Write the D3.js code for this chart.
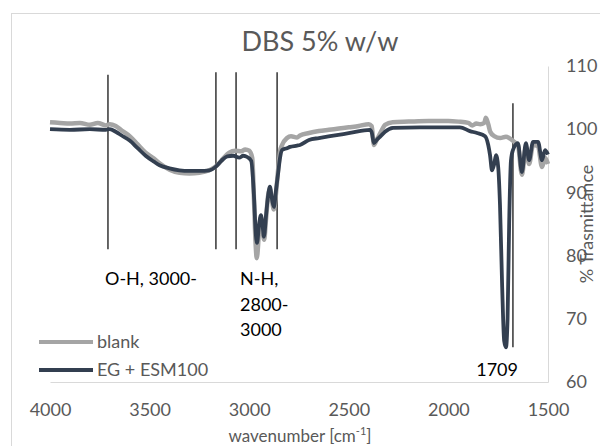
<!doctype html>
<html lang="en">
<head>
<meta charset="UTF-8">
<title>DBS 5% w/w</title>
<style>
  body { margin: 0; background: #fff; }
  svg { display: block; font-family: Lato, "Open Sans", sans-serif; }
</style>
</head>
<body>
<div class="chart"></div>
<script src="https://d3js.org/d3.v7.min.js"></script>
<script>
  // wavenumber (cm-1) and % transmittance
  const blankWn = [4000, 3950, 3900, 3850, 3800, 3760, 3720, 3700, 3670, 3640, 3600, 3560, 3520, 3480, 3450, 3400, 3350, 3300, 3250, 3200, 3160, 3130, 3100, 3070, 3040, 3020, 3000, 2985, 2975, 2968, 2962, 2950, 2942, 2933, 2925, 2915, 2905, 2896, 2885, 2876, 2865, 2855, 2845, 2835, 2810, 2790, 2760, 2745, 2700, 2650, 2600, 2550, 2500, 2450, 2400, 2385, 2374, 2360, 2340, 2318, 2280, 2200, 2100, 2000, 1950, 1900, 1880, 1860, 1840, 1820, 1812, 1800, 1790, 1770, 1740, 1711, 1690, 1670, 1651, 1631, 1611, 1595, 1575, 1550, 1530, 1515, 1500]
  const blankT = [101.1, 101.0, 100.9, 101.0, 100.7, 101.0, 100.6, 100.8, 100.5, 99.8, 98.9, 97.6, 96.3, 95.4, 94.6, 93.6, 93.1, 93.0, 93.1, 93.5, 94.3, 95.4, 96.3, 96.6, 96.5, 96.8, 96.6, 95.5, 88.0, 82.0, 79.6, 84.0, 86.0, 84.0, 82.5, 86.0, 89.5, 90.5, 88.5, 87.3, 90.0, 93.5, 96.5, 97.5, 98.6, 98.9, 98.7, 99.0, 99.4, 99.7, 99.9, 100.1, 100.3, 100.5, 100.8, 100.5, 97.5, 98.3, 99.5, 100.7, 101.1, 101.2, 101.3, 101.3, 101.2, 101.0, 100.6, 100.9, 100.8, 101.0, 101.8, 100.8, 99.6, 98.9, 98.6, 98.8, 98.5, 98.0, 97.5, 92.8, 97.2, 94.5, 97.5, 97.3, 94.0, 95.5, 94.5]

  const egWn = [4000, 3900, 3800, 3720, 3700, 3670, 3640, 3600, 3560, 3520, 3480, 3450, 3400, 3350, 3300, 3250, 3200, 3170, 3140, 3110, 3080, 3050, 3030, 3010, 2990, 2975, 2968, 2961, 2950, 2941, 2932, 2926, 2915, 2905, 2896, 2886, 2876, 2865, 2855, 2845, 2835, 2810, 2795, 2760, 2745, 2700, 2650, 2594, 2494, 2394, 2385, 2374, 2360, 2340, 2318, 2278, 2143, 1942, 1892, 1856, 1816, 1800, 1791, 1781, 1770, 1761, 1750, 1741, 1730, 1720, 1711, 1703, 1695, 1686, 1676, 1651, 1631, 1611, 1595, 1575, 1550, 1530, 1515, 1500]
  const egT = [100.0, 99.9, 100.0, 99.9, 100.0, 99.6, 99.0, 98.2, 97.0, 95.8, 94.9, 94.3, 93.8, 93.5, 93.4, 93.4, 93.5, 94.0, 95.0, 95.7, 95.8, 95.5, 95.8, 95.6, 95.0, 88.8, 84.0, 82.0, 85.0, 86.4, 84.5, 83.0, 86.5, 89.5, 90.9, 89.0, 87.7, 90.5, 93.0, 95.5, 96.7, 97.0, 97.2, 97.4, 97.5, 98.3, 98.6, 98.9, 99.4, 99.9, 99.5, 97.8, 98.3, 98.9, 99.6, 100.2, 100.3, 100.3, 99.7, 99.4, 98.9, 97.5, 95.9, 93.5, 94.5, 95.9, 94.0, 88.0, 75.0, 66.5, 65.5, 70.0, 85.0, 95.0, 96.7, 97.8, 93.2, 97.8, 95.1, 98.0, 98.0, 95.1, 96.7, 96.0]

  const seriesNames = ['blank', 'EG + ESM100']
  const xTicks = [4000, 3500, 3000, 2500, 2000, 1500]
  const yTicks = [60, 70, 80, 90, 100, 110]

  // marker lines: wavenumber, from %T, to %T
  const markWn = [3709, 3167, 3066, 2860, 1676]
  const markFrom = [81.0, 81.0, 81.0, 81.0, 65.5]
  const markTo = [108.6, 109.0, 109.0, 109.0, 104.1]

  const width = 600
  const height = 446
  const grey = '#595959'

  const x = d3.scaleLinear().domain([4000, 1500]).range([50, 548])
  const y = d3.scaleLinear().domain([60, 110]).range([382, 66])

  const svg = d3.select('.chart')
    .append('svg')
    .attr('width', width)
    .attr('height', height)

  // chart frame
  svg.append('rect')
    .attr('x', 11.5)
    .attr('y', 13.5)
    .attr('width', 640)
    .attr('height', 460)
    .attr('fill', '#fff')
    .attr('stroke', '#d9d9d9')

  svg.append('text')
    .attr('x', 320)
    .attr('y', 51)
    .attr('text-anchor', 'middle')
    .style('font-size', '27px')
    .style('fill', grey)
    .text('DBS 5% w/w')

  // axes
  const xAxis = d3.axisBottom(x).tickValues(xTicks).tickFormat(d3.format('d')).tickSize(0).tickPadding(21)
  const gx = svg.append('g')
    .attr('transform', 'translate(0,382)')
    .call(xAxis)
  gx.select('.domain').attr('stroke', '#d9d9d9')
  gx.selectAll('text').style('font-size', '18px').style('fill', grey).style('font-family', 'Lato')
    .attr('y', 34).attr('dy', 0)

  const yAxis = d3.axisRight(y).tickValues(yTicks).tickSize(0).tickPadding(18)
  const gy = svg.append('g')
    .attr('transform', 'translate(548,0)')
    .call(yAxis)
  gy.select('.domain').attr('stroke', '#d9d9d9')
  gy.selectAll('text').style('font-size', '18px').style('fill', grey).style('font-family', 'Lato')

  const xTitle = svg.append('text')
    .attr('x', 300)
    .attr('y', 442)
    .attr('text-anchor', 'middle')
    .style('font-size', '17px')
    .style('fill', grey)
  xTitle.append('tspan').text('wavenumber [cm')
  xTitle.append('tspan').attr('dy', -7).style('font-size', '11px').text('-1')
  xTitle.append('tspan').attr('dy', 7).text(']')

  svg.append('text')
    .attr('transform', 'translate(593,224) rotate(-90)')
    .attr('text-anchor', 'middle')
    .style('font-size', '18px')
    .style('fill', grey)
    .text('% Trasmittance')

  // annotation lines
  svg.selectAll('.mark')
    .data(markWn)
    .enter()
    .append('line')
    .attr('class', 'mark')
    .attr('x1', d => x(d))
    .attr('x2', d => x(d))
    .attr('y1', (d, i) => y(markFrom[i]))
    .attr('y2', (d, i) => y(markTo[i]))
    .attr('stroke', '#000')
    .attr('stroke-width', 1.2)

  const line = d3.line()
    .x(d => x(d[0]))
    .y(d => y(d[1]))
    .curve(d3.curveMonotoneX)

  const blank = blankWn.map((w, i) => [w, blankT[i]])
  const eg = egWn.map((w, i) => [w, egT[i]])

  svg.append('path')
    .datum(blank)
    .attr('d', line)
    .attr('fill', 'none')
    .attr('stroke', '#a5a5a5')
    .attr('stroke-width', 4.5)
    .attr('stroke-linejoin', 'round')

  svg.append('path')
    .datum(eg)
    .attr('d', line)
    .attr('fill', 'none')
    .attr('stroke', '#333f50')
    .attr('stroke-width', 3.8)
    .attr('stroke-linejoin', 'round')

  // peak labels
  const labels = [
    { t: 'O-H, 3000-', x: 105, y: 285, a: 'start' },
    { t: 'N-H,', x: 240, y: 285, a: 'start' },
    { t: '2800-', x: 240, y: 311, a: 'start' },
    { t: '3000', x: 240, y: 336, a: 'start' },
    { t: '1709', x: 518, y: 376, a: 'end' }
  ]
  svg.selectAll('.lab')
    .data(labels)
    .enter()
    .append('text')
    .attr('class', 'lab')
    .attr('x', d => d.x)
    .attr('y', d => d.y)
    .attr('text-anchor', d => d.a)
    .style('font-size', '18px')
    .style('fill', '#000')
    .text(d => d.t)

  // legend
  const legendColors = ['#a5a5a5', '#333f50']
  const legend = svg.selectAll('.leg')
    .data(seriesNames)
    .enter()
    .append('g')
    .attr('class', 'leg')
    .attr('transform', (d, i) => `translate(39, ${342 + i * 28})`)
  legend.append('line')
    .attr('x1', 0)
    .attr('x2', 54)
    .attr('stroke', (d, i) => legendColors[i])
    .attr('stroke-width', 4)
  legend.append('text')
    .attr('x', 58)
    .attr('dy', '0.35em')
    .style('font-size', '18px')
    .style('fill', grey)
    .text(d => d)
</script>
</body>
</html>
